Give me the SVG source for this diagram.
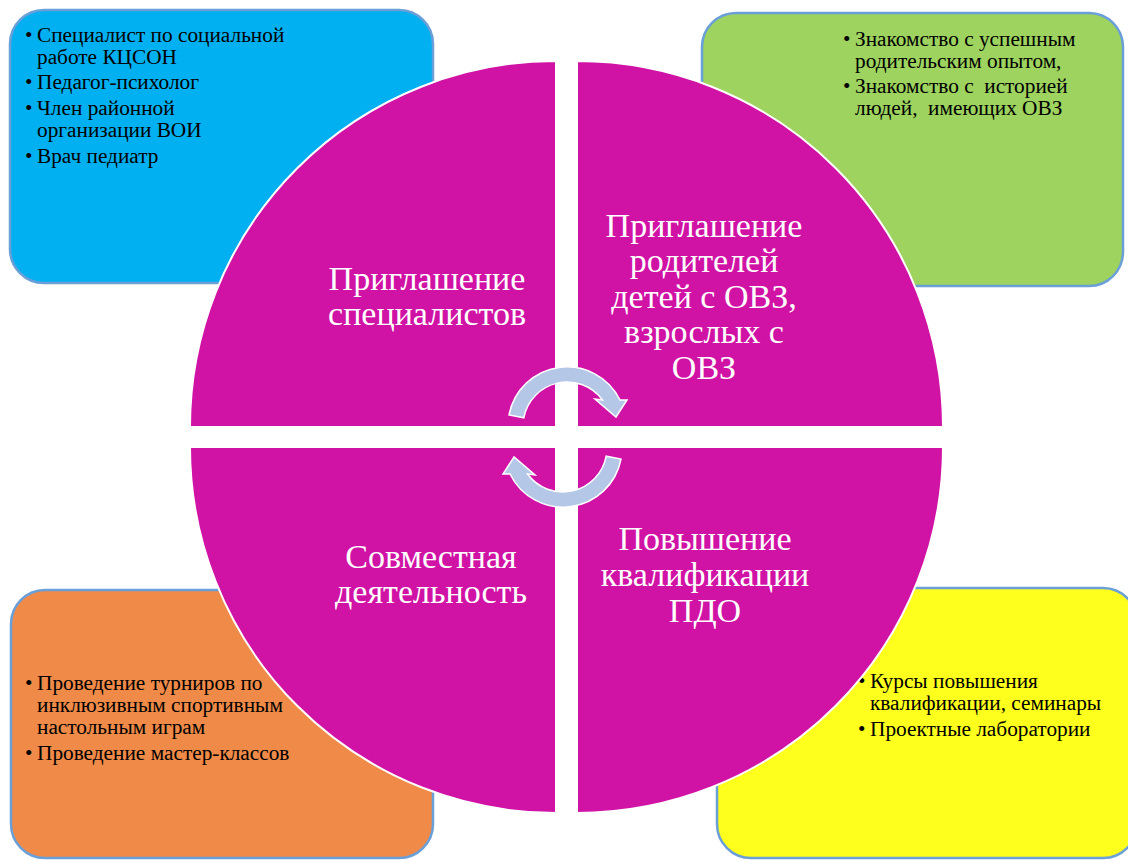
<svg xmlns="http://www.w3.org/2000/svg" width="1128" height="861" viewBox="0 0 1128 861">
<style>
.box{stroke:#6A9FD8;stroke-width:2.5}
.q{fill:#D012A5;stroke:#FFFFFF;stroke-width:2}
.t{font-family:"Liberation Serif","Times New Roman",serif;font-size:21.3px;fill:#000}
.h{font-family:"Liberation Serif","Times New Roman",serif;font-size:34px;fill:#FFFFFF;text-anchor:middle}
.arr{fill:#B4C7E7;stroke:#FFFFFF;stroke-width:1.5}
</style>
<defs>
<path id="carrow" d="M -58,-11 A 59 59 0 0 1 53,-26 L 60,-26 L 49,-9 L 28,-27 L 35.5,-26 A 44 44 0 0 0 -43.2,-8.2 Z"/>
</defs>
<rect width="1128" height="861" fill="#FFFFFF"/>
<g id="box-specialists">
<rect class="box" x="10" y="10" width="423" height="273" rx="34" fill="#00B0F0"/>
<text class="t"><tspan x="25" y="42">•</tspan><tspan x="37" y="42">Специалист по социальной</tspan><tspan x="37" y="64">работе КЦСОН</tspan><tspan x="25" y="89">•</tspan><tspan x="37" y="89">Педагог-психолог</tspan><tspan x="25" y="115">•</tspan><tspan x="37" y="115">Член районной</tspan><tspan x="37" y="137">организации ВОИ</tspan><tspan x="25" y="163">•</tspan><tspan x="37" y="163">Врач педиатр</tspan></text>
</g>
<g id="box-parents">
<rect class="box" x="702" y="13" width="421" height="273" rx="34" fill="#9DD35E"/>
<text class="t"><tspan x="843" y="46">•</tspan><tspan x="855" y="46">Знакомство с успешным</tspan><tspan x="855" y="68">родительским опытом,</tspan><tspan x="843" y="93">•</tspan><tspan x="855" y="93" xml:space="preserve">Знакомство с  историей</tspan><tspan x="855" y="115" xml:space="preserve">людей,  имеющих ОВЗ</tspan></text>
</g>
<g id="box-joint">
<rect class="box" x="11" y="590" width="422" height="268" rx="34" fill="#EF8A48"/>
<text class="t"><tspan x="25" y="690">•</tspan><tspan x="37" y="690">Проведение турниров по</tspan><tspan x="37" y="712">инклюзивным спортивным</tspan><tspan x="37" y="734">настольным играм</tspan><tspan x="25" y="760">•</tspan><tspan x="37" y="760">Проведение мастер-классов</tspan></text>
</g>
<g id="box-qualification">
<rect class="box" x="717" y="588" width="420" height="270" rx="34" fill="#FFFF1E"/>
<text class="t"><tspan x="858" y="688">•</tspan><tspan x="870" y="688">Курсы повышения</tspan><tspan x="870" y="710">квалификации, семинары</tspan><tspan x="858" y="736">•</tspan><tspan x="870" y="736">Проектные лаборатории</tspan></text>
</g>
<g id="quadrant-tl">
<path class="q" d="M 556,427 L 190,427 A 366 366 0 0 1 556,61 Z"/>
<text class="h"><tspan x="427" y="290">Приглашение</tspan><tspan x="427" y="325">специалистов</tspan></text>
</g>
<g id="quadrant-tr">
<path class="q" d="M 577,427 L 577,61 A 366 366 0 0 1 943,427 Z"/>
<text class="h"><tspan x="704" y="237">Приглашение</tspan><tspan x="704" y="272">родителей</tspan><tspan x="704" y="308">детей с ОВЗ,</tspan><tspan x="704" y="343">взрослых с</tspan><tspan x="704" y="379">ОВЗ</tspan></text>
</g>
<g id="quadrant-bl">
<path class="q" d="M 556,447 L 556,813 A 366 366 0 0 1 190,447 Z"/>
<text class="h"><tspan x="431" y="568">Совместная</tspan><tspan x="431" y="603">деятельность</tspan></text>
</g>
<g id="quadrant-br">
<path class="q" d="M 577,447 L 943,447 A 366 366 0 0 1 577,813 Z"/>
<text class="h"><tspan x="705" y="550">Повышение</tspan><tspan x="705" y="586">квалификации</tspan><tspan x="705" y="622">ПДО</tspan></text>
</g>
<g id="connectors">
<use href="#carrow" class="arr" transform="translate(567,426)"/>
<use href="#carrow" class="arr" transform="translate(563,448) rotate(180)"/>
</g>
</svg>
